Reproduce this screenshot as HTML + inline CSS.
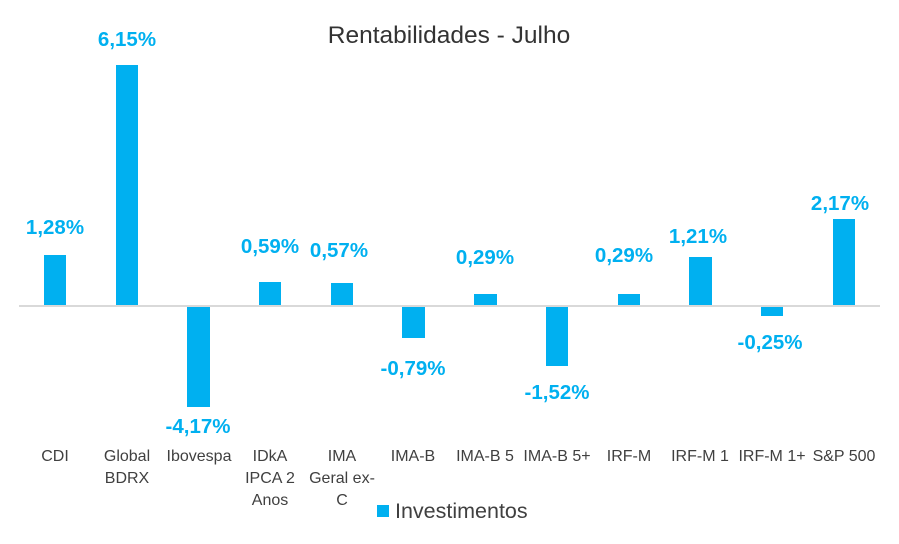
<!DOCTYPE html>
<html><head><meta charset="utf-8"><style>
body{margin:0;background:#fff;}
svg{display:block;font-family:"Liberation Sans",sans-serif;}
.v{font-size:20.5px;font-weight:bold;fill:#00B0F0;text-anchor:middle;}
.c{font-size:16px;fill:#404040;text-anchor:middle;}
</style></head><body>
<svg width="899" height="544" viewBox="0 0 899 544">
<rect width="899" height="544" fill="#fff"/>
<text x="449" y="43" font-size="24.5" fill="#333" text-anchor="middle">Rentabilidades - Julho</text>
<g fill="#00B0F0">
<rect x="44" y="255" width="22" height="50"/>
<rect x="116" y="65" width="22" height="240"/>
<rect x="187" y="307" width="23" height="100"/>
<rect x="259" y="282" width="22" height="23"/>
<rect x="331" y="283" width="22" height="22"/>
<rect x="402" y="307" width="23" height="31"/>
<rect x="474" y="294" width="23" height="11"/>
<rect x="546" y="307" width="22" height="59"/>
<rect x="618" y="294" width="22" height="11"/>
<rect x="689" y="257" width="23" height="48"/>
<rect x="761" y="307" width="22" height="9"/>
<rect x="833" y="219" width="22" height="86"/>
</g>
<rect x="19" y="305" width="861" height="2" fill="#d9d9d9"/>
<text class="v" x="55" y="234">1,28%</text>
<text class="v" x="127" y="46">6,15%</text>
<text class="v" x="198" y="433">-4,17%</text>
<text class="v" x="270" y="253">0,59%</text>
<text class="v" x="339" y="257">0,57%</text>
<text class="v" x="413" y="375">-0,79%</text>
<text class="v" x="485" y="264">0,29%</text>
<text class="v" x="557" y="399">-1,52%</text>
<text class="v" x="624" y="262">0,29%</text>
<text class="v" x="698" y="243">1,21%</text>
<text class="v" x="770" y="349">-0,25%</text>
<text class="v" x="840" y="210">2,17%</text>
<text class="c" x="55" y="461">CDI</text>
<text class="c" x="127" y="461">Global</text><text class="c" x="127" y="483">BDRX</text>
<text class="c" x="199" y="461">Ibovespa</text>
<text class="c" x="270" y="461">IDkA</text><text class="c" x="270" y="483">IPCA 2</text><text class="c" x="270" y="505">Anos</text>
<text class="c" x="342" y="461">IMA</text><text class="c" x="342" y="483">Geral ex-</text><text class="c" x="342" y="505">C</text>
<text class="c" x="413" y="461">IMA-B</text>
<text class="c" x="485" y="461">IMA-B 5</text>
<text class="c" x="557" y="461">IMA-B 5+</text>
<text class="c" x="629" y="461">IRF-M</text>
<text class="c" x="700" y="461">IRF-M 1</text>
<text class="c" x="772" y="461">IRF-M 1+</text>
<text class="c" x="844" y="461">S&amp;P 500</text>
<rect x="377" y="505" width="12" height="12" fill="#00B0F0"/>
<text x="395" y="518" font-size="21.5" fill="#404040">Investimentos</text>
</svg>
</body></html>
